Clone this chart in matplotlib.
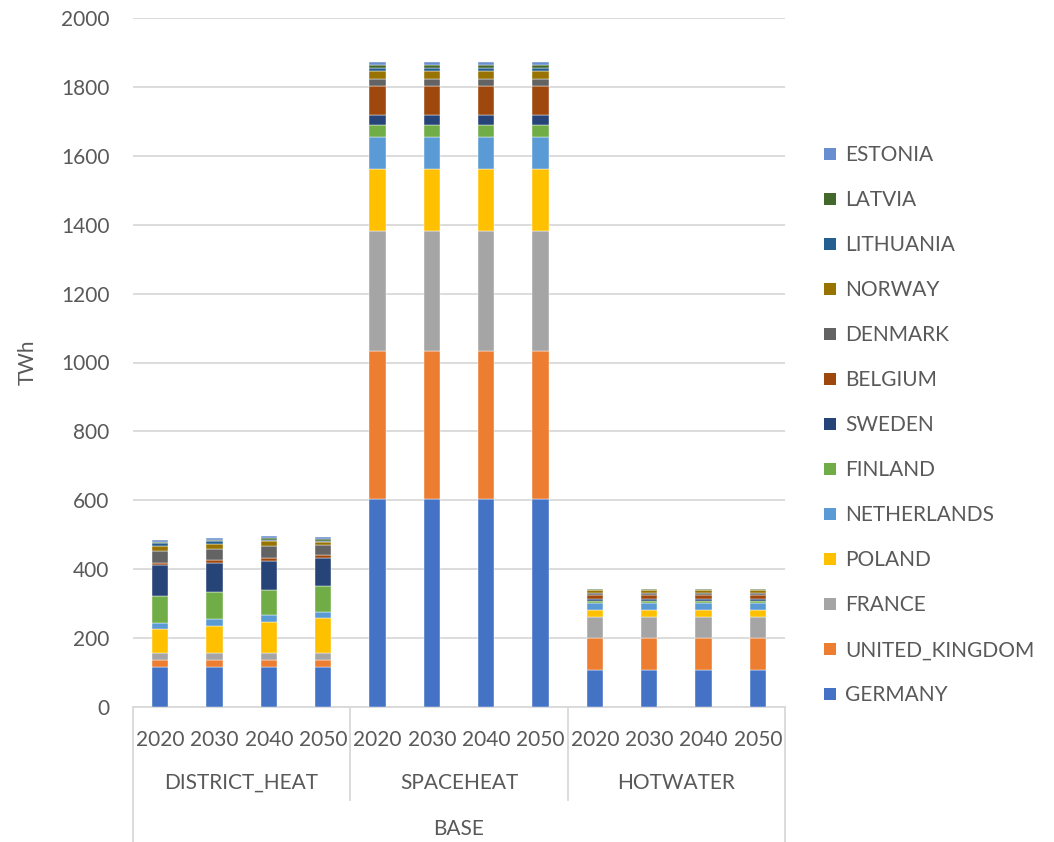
import matplotlib.pyplot as plt
import numpy as np
from matplotlib.lines import Line2D
from matplotlib.patches import Patch

# heat demand by end use, TWh, stacked per country
years = ["2020", "2030", "2040", "2050"]
groups = ["DISTRICT_HEAT", "SPACEHEAT", "HOTWATER"]
scenario = "BASE"

countries = ["GERMANY", "UNITED_KINGDOM", "FRANCE", "POLAND", "NETHERLANDS",
             "FINLAND", "SWEDEN", "BELGIUM", "DENMARK", "NORWAY",
             "LITHUANIA", "LATVIA", "ESTONIA"]
colors = ["#4472C4", "#ED7D31", "#A5A5A5", "#FFC000", "#5B9BD5",
          "#70AD47", "#264478", "#9E480E", "#636363", "#997300",
          "#255E91", "#43682B", "#698ED0"]

# one row per bar: district heat 2020..2050, space heat 2020..2050, hot water 2020..2050
district_heat = [
    [117, 19, 22, 67, 18, 79, 90, 5, 36, 14, 8, 5, 4],
    [117, 19, 22, 78, 18, 79, 86, 8, 33, 13, 9, 4, 4],
    [117, 19, 22, 90, 18, 75, 84, 8, 33, 15, 4, 6, 4],
    [117, 19, 22, 101, 18, 74, 82, 7, 30, 9, 4, 5, 5],
]
space_heat = [[603, 430, 349, 179, 93, 36, 27, 86, 20, 23, 8, 10, 8]] * 4
hot_water = [[106, 93, 62, 20, 22, 4, 7, 12, 4, 10, 1, 1, 1]] * 4

values = np.array(district_heat + space_heat + hot_water, dtype=float)

TXT = "#595959"
GRID = "#D9D9D9"
plt.rcParams["font.family"] = ["Lato", "DejaVu Sans"]
FS = 15

W, H = 1054, 842
fig = plt.figure(figsize=(W / 100, H / 100), dpi=100)
x0, x1, y0, y1 = 133, 785, 707, 18
ax = fig.add_axes([x0 / W, 1 - y0 / H, (x1 - x0) / W, (y0 - y1) / H])

n = values.shape[0]
x = np.arange(n)
bottom = np.zeros(n)
for j, (name, c) in enumerate(zip(countries, colors)):
    ax.bar(x, values[:, j], 0.3, bottom=bottom, color=c, label=name,
           edgecolor="white", linewidth=0.3, zorder=3)
    bottom += values[:, j]

ax.set_xlim(-0.5, n - 0.5)
ax.set_ylim(0, 2000)
ax.set_yticks(np.arange(0, 2001, 200))
ax.yaxis.grid(True, color=GRID, lw=1.3, zorder=0)
ax.tick_params(axis="y", length=0, pad=17, labelsize=FS, labelcolor=TXT)
ax.set_xticks([])
for s in ["left", "right", "top"]:
    ax.spines[s].set_visible(False)
ax.spines["bottom"].set_color(GRID)
ax.spines["bottom"].set_linewidth(1.3)
ax.set_ylabel("TWh", fontsize=FS, color=TXT)
ax.yaxis.set_label_coords((38 - x0) / (x1 - x0), 0.5)

# multi-level category axis below the bars
def fx(px):
    return px / W

def fy(py):
    return 1 - py / H

bounds = [x0, 350, 568, x1]
for i, b in enumerate(bounds):
    bot = H if i in (0, len(bounds) - 1) else 800
    fig.add_artist(Line2D([fx(b), fx(b)], [fy(y0), fy(bot)], color=GRID, lw=1.3))

step = (x1 - x0) / n
for i in range(n):
    fig.text(fx(x0 + step * (i + 0.5)), fy(740), years[i % 4], ha="center",
             va="center", fontsize=FS, color=TXT)
for g, name in enumerate(groups):
    fig.text(fx((bounds[g] + bounds[g + 1]) / 2), fy(783), name, ha="center",
             va="center", fontsize=FS, color=TXT)
fig.text(fx((x0 + x1) / 2), fy(829), scenario, ha="center", va="center",
         fontsize=FS, color=TXT)

handles = [Patch(facecolor=c, label=nm) for nm, c in zip(countries, colors)][::-1]
fig.legend(handles=handles, loc="upper left", bbox_to_anchor=(fx(814), fy(135)),
           frameon=False, fontsize=FS, labelcolor=TXT, handlelength=0.55,
           handleheight=0.55, handletextpad=0.45, labelspacing=1.2, borderpad=0)

fig.savefig("out.png", dpi=100)
